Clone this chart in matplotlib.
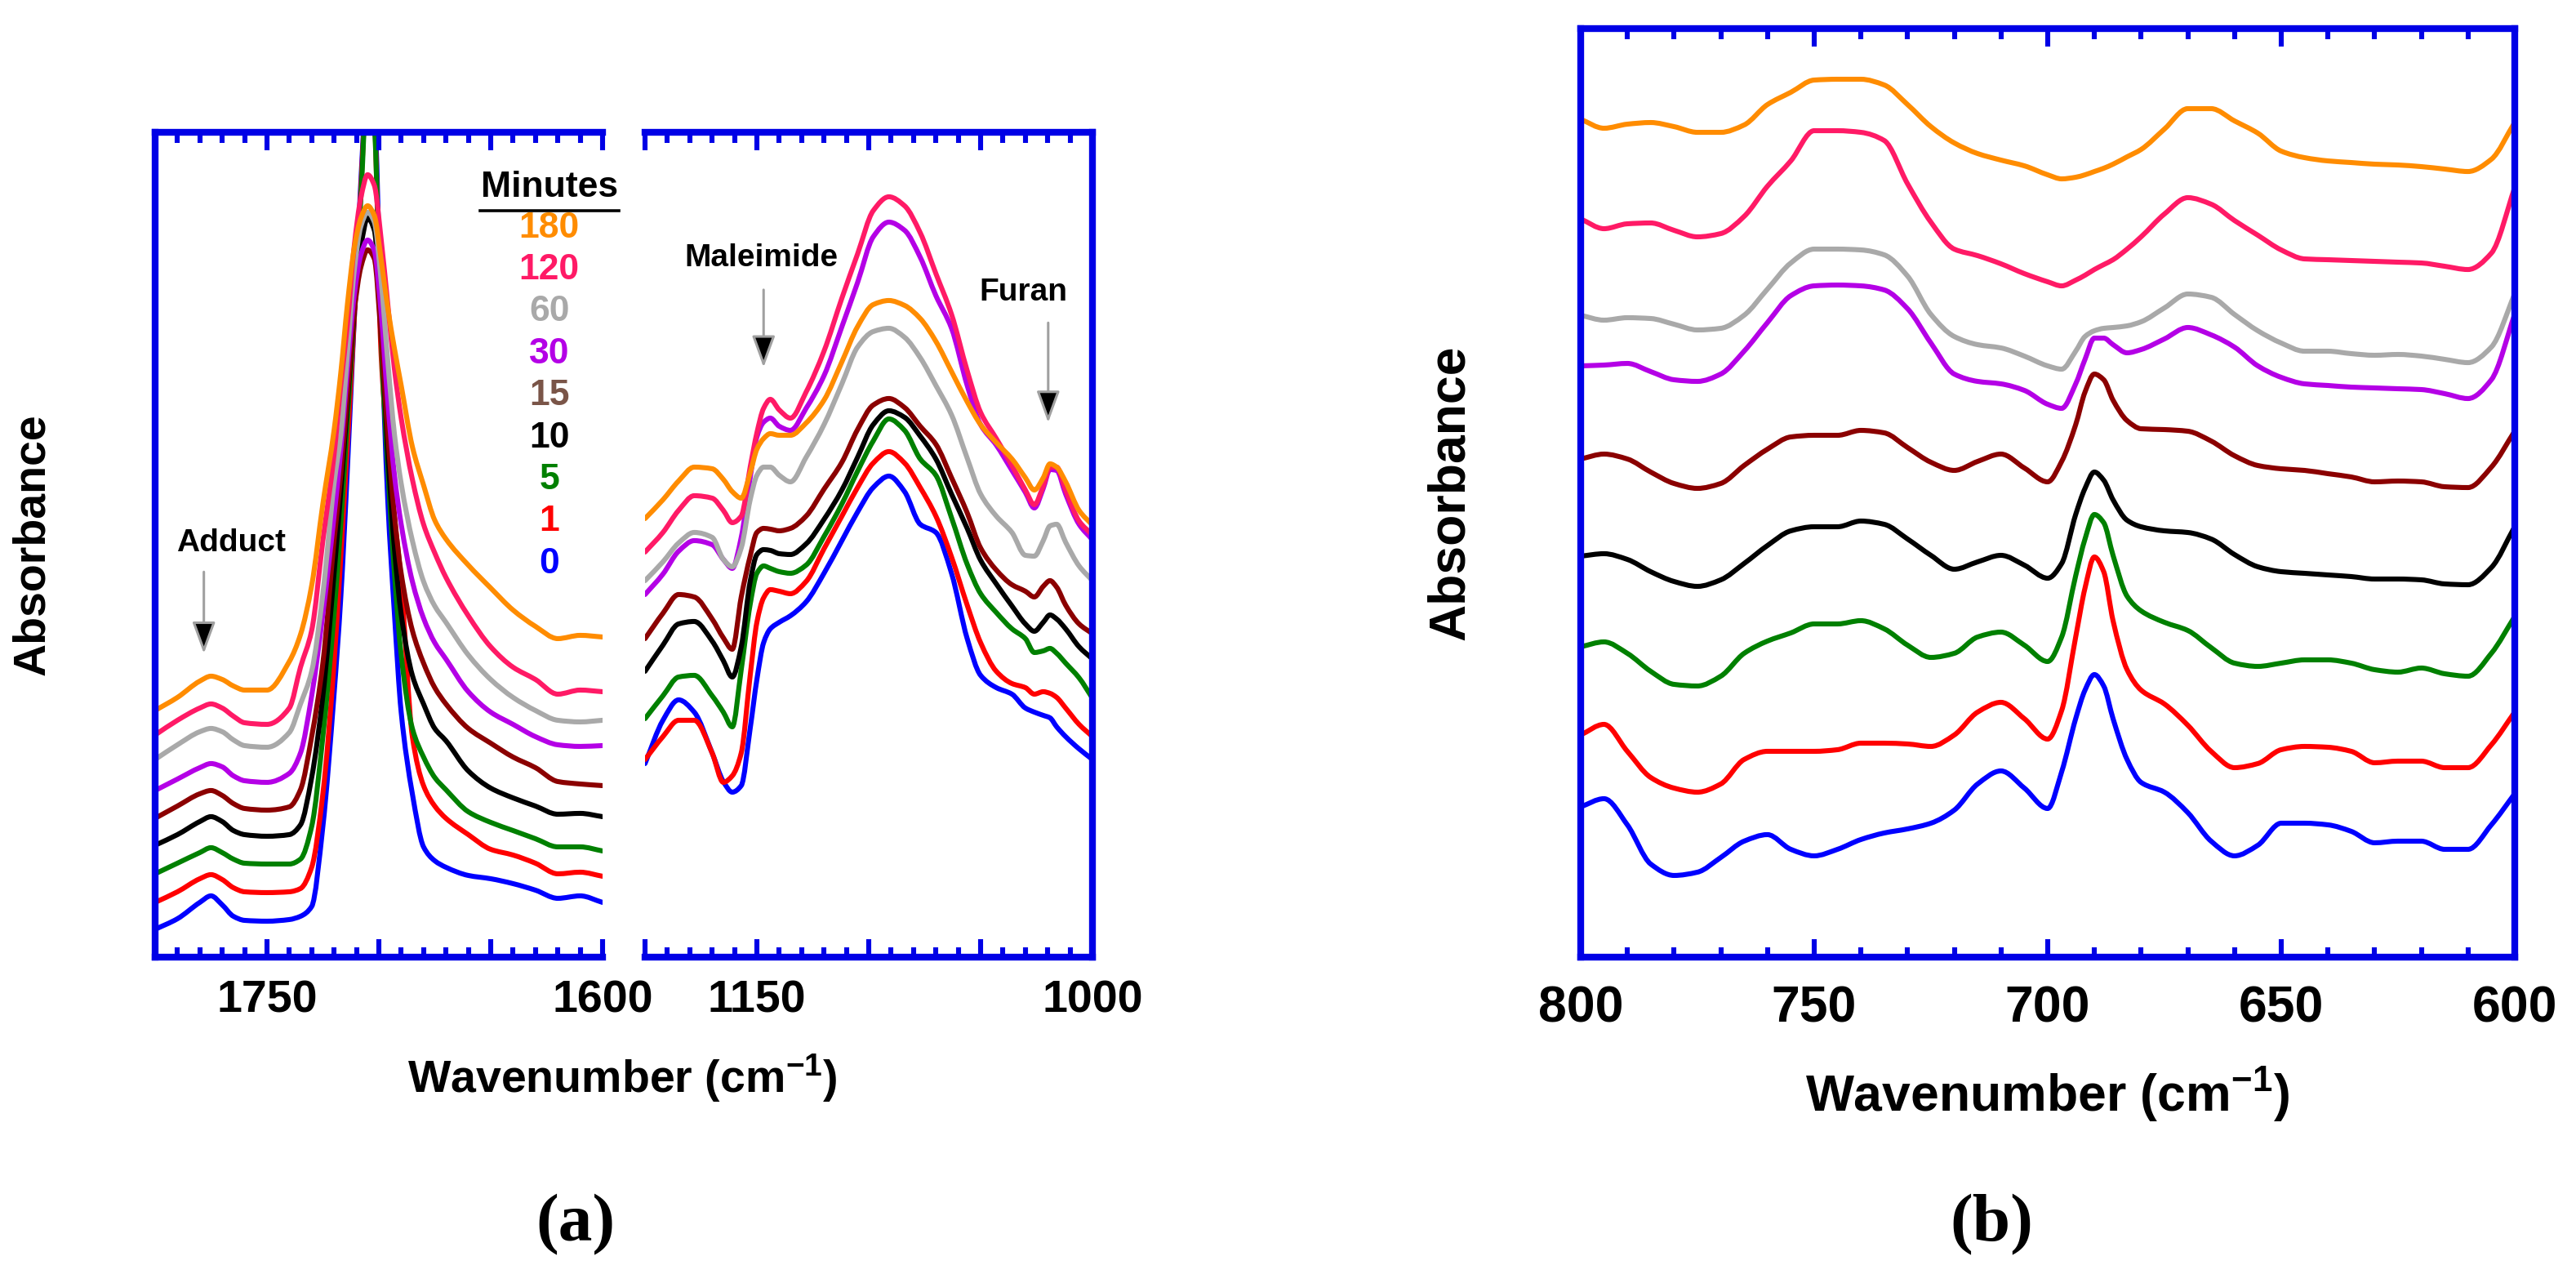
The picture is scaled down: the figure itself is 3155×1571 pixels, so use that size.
# FTIR spectra during the furan/maleimide reaction, three windows
import numpy as np
import matplotlib
matplotlib.use('Agg')
import matplotlib.pyplot as plt
from matplotlib.path import Path
from matplotlib.patches import PathPatch
from matplotlib.ticker import MultipleLocator, FuncFormatter

plt.rcParams['font.family'] = ['Liberation Sans', 'DejaVu Sans']
plt.rcParams['font.weight'] = 'bold'
plt.rcParams['mathtext.fontset'] = 'custom'
plt.rcParams['mathtext.rm'] = 'Liberation Sans:bold'
plt.rcParams['mathtext.it'] = 'Liberation Sans:bold'
plt.rcParams['mathtext.bf'] = 'Liberation Sans:bold'
plt.rcParams['mathtext.default'] = 'bf'

# tiempos (minutos) y colores de cada espectro
minutes = ['0', '1', '5', '10', '15', '30', '60', '120', '180']
line_colors = ['#0000FF', '#FF0000', '#008000', '#000000', '#8B0000',
               '#B400E6', '#A9A9A9', '#FF1A66', '#FF8C00']
label_colors = ['#0000FF', '#FF0000', '#008000', '#000000', '#7A5548',
                '#B400E6', '#A9A9A9', '#FF1A66', '#FF8C00']

# ---- ventana carbonilo 1800-1600 cm-1 (absorbancia x1000, con offset)
wn_co = [1800, 1790, 1780, 1775, 1770, 1765, 1760, 1750, 1740, 1735, 1730, 1725,
         1720, 1717, 1714, 1711, 1708, 1705, 1702, 1699, 1696, 1693, 1690, 1685,
         1680, 1675, 1670, 1660, 1650, 1640, 1630, 1620, 1610, 1600]
co_0 = [34, 47, 67, 75, 64, 50, 45, 44, 46, 50, 62, 160, 322, 440, 600, 780, 950, 1080,
        1040, 780, 560, 420, 300, 200, 135, 118, 110, 100, 96, 90, 82, 72, 75, 67]
co_1 = [67, 80, 96, 101, 95, 85, 80, 79, 80, 84, 110, 200, 360, 490, 630, 780, 940, 1080,
        1030, 740, 625, 540, 460, 270, 210, 185, 170, 150, 132, 125, 115, 102, 104, 99]
co_5 = [102, 115, 128, 134, 128, 120, 115, 114, 114, 120, 160, 270, 420, 530, 660, 790, 930, 1080,
        1020, 760, 600, 470, 370, 280, 245, 220, 205, 178, 165, 155, 145, 135, 135, 130]
co_10 = [137, 150, 166, 172, 166, 155, 150, 148, 150, 162, 220, 320, 470, 570, 680, 790, 870, 905,
         890, 780, 620, 500, 420, 345, 310, 280, 265, 228, 207, 195, 185, 175, 176, 172]
co_15 = [170, 185, 200, 204, 198, 188, 182, 180, 184, 205, 270, 360, 510, 590, 690, 790, 845, 866,
         855, 760, 640, 540, 470, 400, 360, 330, 310, 280, 262, 245, 232, 215, 212, 210]
co_30 = [204, 218, 232, 237, 233, 222, 216, 214, 225, 250, 320, 420, 540, 620, 720, 810, 860, 878,
         865, 790, 680, 590, 530, 460, 415, 385, 365, 325, 300, 285, 270, 260, 258, 259]
co_60 = [242, 260, 276, 280, 276, 266, 259, 257, 275, 310, 350, 445, 580, 640, 740, 840, 895, 912,
         900, 830, 730, 640, 580, 510, 460, 430, 410, 370, 340, 318, 302, 290, 288, 290]
co_120 = [272, 290, 305, 310, 305, 295, 287, 285, 305, 355, 400, 510, 615, 700, 775, 870, 930, 958,
          945, 880, 800, 720, 660, 585, 530, 495, 465, 418, 380, 355, 340, 322, 327, 325]
co_180 = [302, 318, 338, 344, 340, 332, 327, 327, 362, 395, 455, 555, 645, 715, 800, 868, 905, 920,
          908, 855, 795, 745, 700, 625, 578, 535, 512, 480, 452, 425, 405, 390, 394, 392]

# ---- ventana 1200-1000 cm-1 (maleimida / furano)
wn_fm = [1200, 1192, 1185, 1178, 1170, 1165, 1161, 1157, 1153, 1150, 1147, 1144,
         1140, 1135, 1128, 1120, 1112, 1105, 1098, 1091, 1084, 1077, 1070, 1063,
         1056, 1050, 1043, 1036, 1030, 1026, 1022, 1019, 1016, 1012, 1006, 1000]
fm_0 = [237, 290, 315, 300, 250, 215, 202, 210, 280, 340, 385, 402, 410, 418, 435, 470, 510, 545,
        575, 589, 570, 530, 520, 470, 390, 345, 330, 322, 305, 300, 296, 293, 282, 270, 255, 242]
fm_1 = [242, 270, 290, 290, 250, 214, 222, 250, 345, 410, 440, 450, 448, 445, 460, 500, 540, 575,
        605, 619, 605, 575, 540, 490, 431, 385, 350, 335, 330, 322, 325, 323, 318, 305, 285, 270]
fm_5 = [292, 320, 343, 345, 320, 300, 282, 352, 432, 470, 479, 476, 472, 470, 480, 515, 555, 595,
        632, 659, 645, 610, 590, 538, 481, 445, 422, 402, 390, 373, 375, 378, 372, 360, 342, 317]
fm_10 = [350, 382, 408, 411, 387, 363, 343, 380, 460, 493, 499, 498, 494, 493, 506, 536, 572, 612,
         652, 669, 661, 638, 610, 567, 525, 486, 457, 430, 408, 399, 410, 419, 414, 402, 380, 365]
fm_15 = [390, 421, 444, 441, 414, 391, 377, 441, 491, 520, 525, 524, 522, 525, 540, 573, 606, 646,
         676, 684, 673, 650, 628, 587, 544, 501, 474, 456, 448, 441, 454, 461, 453, 431, 408, 396]
fm_30 = [444, 469, 497, 510, 505, 487, 476, 514, 587, 637, 655, 660, 650, 645, 672, 712, 772, 826,
         882, 900, 890, 857, 810, 770, 700, 652, 627, 596, 569, 550, 574, 597, 596, 567, 530, 511]
fm_60 = [461, 484, 507, 520, 514, 487, 478, 501, 560, 590, 600, 600, 590, 582, 612, 652, 702, 747,
         766, 770, 759, 734, 700, 664, 611, 567, 540, 520, 492, 491, 510, 528, 530, 508, 479, 461]
fm_120 = [496, 520, 547, 565, 562, 547, 532, 540, 600, 642, 672, 683, 670, 660, 692, 742, 807, 861,
          914, 931, 920, 887, 837, 787, 718, 667, 635, 602, 572, 554, 577, 600, 600, 572, 534, 517]
fm_180 = [537, 560, 583, 600, 598, 585, 570, 562, 593, 622, 635, 641, 639, 639, 654, 682, 729, 772,
          799, 804, 798, 782, 754, 717, 680, 652, 630, 610, 587, 572, 587, 604, 600, 582, 547, 529]

# ---- panel (b) 800-600 cm-1
wn_b = [800, 795, 790, 785, 780, 775, 770, 765, 760, 755, 750, 745, 740, 735, 730,
        725, 720, 715, 710, 705, 700, 697, 694, 692, 690, 688, 686, 683, 680, 675,
        670, 665, 660, 655, 650, 645, 640, 635, 630, 625, 620, 615, 610, 605, 600]
b_0 = [184, 194, 162, 114, 100, 104, 122, 142, 150, 132, 124, 132, 144, 152, 157,
       164, 180, 212, 228, 207, 182, 227, 292, 327, 346, 332, 292, 242, 214, 202,
       177, 142, 124, 137, 164, 164, 162, 154, 140, 142, 142, 132, 132, 162, 200]
b_1 = [272, 285, 252, 220, 207, 202, 212, 242, 252, 252, 252, 254, 262, 262, 261,
       258, 272, 300, 312, 292, 267, 302, 392, 452, 490, 472, 412, 352, 327, 310,
       284, 252, 232, 237, 254, 258, 257, 252, 238, 240, 240, 232, 232, 260, 300]
b_5 = [380, 386, 372, 350, 334, 332, 344, 372, 387, 397, 408, 408, 412, 402, 382,
       367, 372, 392, 398, 382, 362, 392, 467, 512, 542, 532, 492, 442, 424, 410,
       400, 379, 360, 356, 360, 364, 364, 360, 352, 349, 354, 347, 344, 372, 417]
b_10 = [491, 494, 487, 472, 460, 454, 462, 482, 504, 522, 527, 527, 534, 530, 512,
        492, 475, 484, 492, 480, 464, 482, 542, 574, 594, 584, 560, 535, 527, 522,
        520, 512, 493, 478, 472, 470, 468, 466, 463, 463, 462, 457, 456, 477, 527]
b_15 = [610, 616, 610, 594, 580, 574, 580, 602, 622, 637, 639, 639, 645, 642, 624,
        606, 596, 607, 616, 599, 582, 607, 652, 692, 714, 707, 682, 657, 647, 646,
        644, 632, 614, 602, 598, 596, 592, 588, 582, 583, 582, 576, 575, 600, 644]
b_30 = [724, 725, 727, 717, 707, 705, 714, 742, 777, 810, 822, 823, 822, 817, 794,
        752, 714, 705, 702, 694, 677, 672, 702, 732, 758, 758, 750, 740, 744, 757,
        771, 762, 747, 724, 710, 702, 700, 698, 697, 696, 695, 690, 684, 707, 787]
b_60 = [786, 780, 783, 782, 775, 768, 770, 786, 818, 850, 867, 867, 866, 860, 834,
        787, 760, 750, 746, 736, 724, 720, 742, 760, 767, 770, 771, 773, 778, 795,
        812, 808, 787, 767, 752, 742, 742, 739, 737, 738, 736, 732, 728, 747, 812]
b_120 = [904, 892, 898, 899, 890, 882, 886, 907, 944, 975, 1012, 1012, 1010, 1000, 947,
         900, 867, 859, 849, 837, 827, 822, 829, 835, 842, 848, 854, 867, 882, 910,
         930, 922, 902, 884, 866, 855, 854, 853, 852, 851, 850, 846, 842, 862, 942]
b_180 = [1026, 1015, 1020, 1022, 1017, 1010, 1010, 1019, 1044, 1059, 1074, 1075, 1075, 1068, 1044,
         1017, 997, 984, 976, 969, 958, 953, 955, 958, 962, 966, 971, 980, 989, 1014,
         1039, 1039, 1024, 1009, 987, 979, 975, 973, 971, 970, 968, 965, 962, 977, 1022]

co_set = [co_0, co_1, co_5, co_10, co_15, co_30, co_60, co_120, co_180]
fm_set = [fm_0, fm_1, fm_5, fm_10, fm_15, fm_30, fm_60, fm_120, fm_180]
b_set = [b_0, b_1, b_5, b_10, b_15, b_30, b_60, b_120, b_180]

frame = '#0000E6'


def linea_suave(ax, x, y, color):
    # trazo suavizado: bezier cubica que pasa por los puntos leidos
    x = np.asarray(x, float)
    y = np.asarray(y, float)
    h = np.diff(x)
    d = np.diff(y) / h
    m = np.zeros_like(y)
    m[0], m[-1] = d[0], d[-1]
    for k in range(1, len(y) - 1):
        if d[k - 1] * d[k] > 0:
            w1 = 2 * h[k] + h[k - 1]
            w2 = h[k] + 2 * h[k - 1]
            m[k] = (w1 + w2) / (w1 / d[k - 1] + w2 / d[k])
    verts = [(x[0], y[0])]
    codes = [Path.MOVETO]
    for k in range(len(y) - 1):
        verts += [(x[k] + h[k] / 3, y[k] + m[k] * h[k] / 3),
                  (x[k + 1] - h[k] / 3, y[k + 1] - m[k + 1] * h[k] / 3),
                  (x[k + 1], y[k + 1])]
        codes += [Path.CURVE4] * 3
    ax.add_patch(PathPatch(Path(verts, codes), fill=False, edgecolor=color,
                           lw=2.2, joinstyle='round', capstyle='round'))


def marco(ax, xlim, labels, fsize, pad):
    # caja azul con ticks hacia adentro arriba y abajo
    ax.set_xlim(*xlim)
    for s in ax.spines.values():
        s.set_color(frame)
        s.set_linewidth(3.0)
    ax.xaxis.set_major_locator(MultipleLocator(50))
    ax.xaxis.set_minor_locator(MultipleLocator(10))
    ax.xaxis.set_major_formatter(FuncFormatter(
        lambda v, p: '%d' % round(v) if round(v) in labels else ''))
    ax.tick_params(axis='x', which='both', direction='in', top=True, bottom=True,
                   color=frame, width=2.2, labelsize=fsize, pad=pad)
    ax.tick_params(axis='x', which='major', length=8)
    ax.tick_params(axis='x', which='minor', length=4.5)
    ax.tick_params(axis='y', left=False, right=False, labelleft=False)
    for t in ax.get_xticklabels():
        t.set_fontweight('bold')


def flecha(ax, txt, tx, ty, ax_x, y0, y1):
    ax.text(tx, ty, txt, transform=ax.transAxes, ha='center', va='center',
            fontsize=14, fontweight='bold')
    ax.annotate('', xy=(ax_x, y1), xytext=(ax_x, y0), xycoords='axes fraction',
                arrowprops=dict(arrowstyle='-|>,head_length=0.6,head_width=0.22',
                                mutation_scale=20, fc='black', ec='#a0a0a0',
                                lw=1.1, shrinkA=0, shrinkB=0))


fig = plt.figure(figsize=(15.775, 7.855), dpi=200)

ax1 = fig.add_axes([0.0602, 0.2540, 0.1737, 0.6429])
ax2 = fig.add_axes([0.2504, 0.2540, 0.1737, 0.6429])
ax3 = fig.add_axes([0.6136, 0.2540, 0.3626, 0.7237])

for i in range(len(minutes)):
    linea_suave(ax1, wn_co, co_set[i], line_colors[i])
    linea_suave(ax2, wn_fm, fm_set[i], line_colors[i])
    linea_suave(ax3, wn_b, b_set[i], line_colors[i])

ax1.set_ylim(0, 1010)
ax2.set_ylim(0, 1010)
ax3.set_ylim(0, 1137)

marco(ax1, (1800, 1600), (1750, 1600), 20, 10)
marco(ax2, (1200, 1000), (1150, 1000), 20, 10)
marco(ax3, (800, 600), (800, 750, 700, 650, 600), 22.5, 12)
ax1.spines['right'].set_visible(False)
ax2.spines['left'].set_visible(False)

# leyenda "Minutes"
ax1.text(0.881, 0.933, 'Minutes', transform=ax1.transAxes, ha='center', va='center',
         fontsize=16, fontweight='bold')
ax1.plot([0.726, 1.036], [0.905, 0.905], transform=ax1.transAxes, color='black',
         lw=1.3, clip_on=False)
for k, i in enumerate(range(len(minutes) - 1, -1, -1)):
    ax1.text(0.881, 0.884 - 0.0509 * k, minutes[i], transform=ax1.transAxes,
             ha='center', va='center', fontsize=16, fontweight='bold',
             color=label_colors[i])

flecha(ax1, 'Adduct', 0.170, 0.502, 0.109, 0.467, 0.368)
flecha(ax2, 'Maleimide', 0.259, 0.847, 0.265, 0.809, 0.715)
flecha(ax2, 'Furan', 0.845, 0.806, 0.901, 0.769, 0.648)

fig.text(0.2415, 0.1598, r'Wavenumber (cm$^{-1}$)', ha='center', va='center',
         fontsize=20, fontweight='bold')
fig.text(0.7949, 0.147, r'Wavenumber (cm$^{-1}$)', ha='center', va='center',
         fontsize=22.5, fontweight='bold')
fig.text(0.0127, 0.5754, 'Absorbance', rotation=90, ha='center', va='center',
         fontsize=20, fontweight='bold')
fig.text(0.563, 0.6158, 'Absorbance', rotation=90, ha='center', va='center',
         fontsize=22.5, fontweight='bold')
fig.text(0.2235, 0.0452, '(a)', ha='center', va='center', fontsize=30,
         family='Liberation Serif', fontweight='bold')
fig.text(0.7731, 0.0452, '(b)', ha='center', va='center', fontsize=30,
         family='Liberation Serif', fontweight='bold')

fig.savefig('out.png', dpi=200)
